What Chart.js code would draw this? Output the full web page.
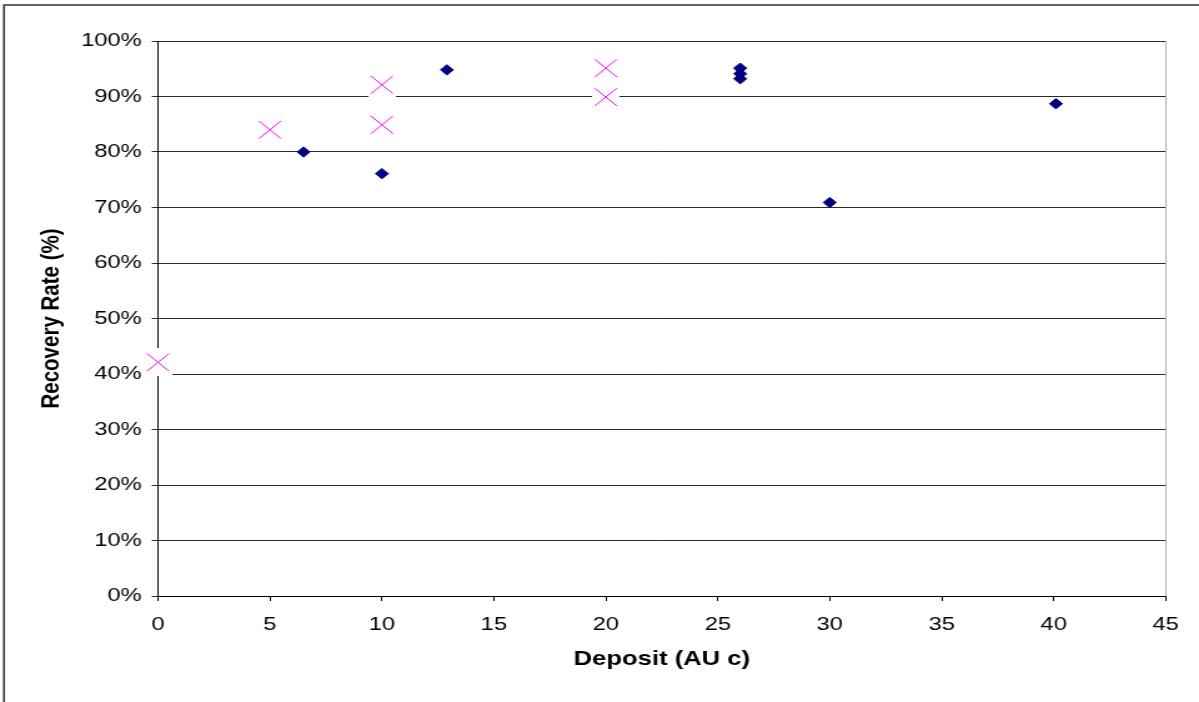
<!DOCTYPE html>
<html>
<head>
<meta charset="utf-8">
<script src="https://cdn.jsdelivr.net/npm/chart.js@4"></script>
<style>
    html, body { margin: 0; padding: 0; background: #fff; overflow: hidden; }
    /* the original chart is stretched sideways, so draw narrow and stretch */
    #wrap { width: 960px; height: 702px; transform: scaleX(1.24896); transform-origin: 0 0; }
</style>
</head>
<body>
<div id="wrap"><canvas id="scatterChart"></canvas></div>
<script>
// Deposit (AU c) vs recovery rate (%)
const seriesADeposit = [6.5, 10, 12.9, 26, 26, 26, 30, 40.1];
const seriesARate = [80, 76.1, 94.8, 95.1, 94.1, 93.2, 70.9, 88.7];
const seriesBDeposit = [0, 5, 10, 10, 20, 20];
const seriesBRate = [42.1, 84, 92.1, 84.9, 95.1, 89.9];
const xTicks = [0, 5, 10, 15, 20, 25, 30, 35, 40, 45];
const yTicks = [0, 10, 20, 30, 40, 50, 60, 70, 80, 90, 100];

const FONT = 'Liberation Sans, Arial, Helvetica, sans-serif';

function toPoints(xs, ys) {
    return xs.map(function (x, i) { return {x: x, y: ys[i]}; });
}

//white box behind the crosses, hides the grid lines like excel does
function makeMask() {
    let c = document.createElement('canvas');
    c.width = 22;
    c.height = 28;
    let g = c.getContext('2d');
    g.fillStyle = '#ffffff';
    g.fillRect(0, 0, 22, 28);
    return c;
}

const framePlugin = {
    id: 'frame',
    beforeDraw: function (chart) {
        let ctx = chart.ctx;
        ctx.save();
        ctx.strokeStyle = '#333';
        ctx.lineWidth = 1.5;
        ctx.beginPath();
        ctx.moveTo(3.2, 702);
        ctx.lineTo(3.2, 5);
        ctx.lineTo(960, 5);
        ctx.stroke();
        ctx.restore();
    },
    afterDatasetsDraw: function (chart) {
        //right edge of plot area
        let a = chart.chartArea;
        let ctx = chart.ctx;
        ctx.save();
        ctx.strokeStyle = '#b0b0b0';
        ctx.lineWidth = 1;
        ctx.beginPath();
        ctx.moveTo(Math.round(a.right) + 0.5, a.top);
        ctx.lineTo(Math.round(a.right) + 0.5, a.bottom);
        ctx.stroke();
        ctx.restore();
    }
};

const crossPoints = toPoints(seriesBDeposit, seriesBRate);

new Chart($('scatterChart'), {
    type: 'scatter',
    data: {
        datasets: [{
            label: 'B',
            data: crossPoints,
            pointStyle: 'crossRot',
            pointRadius: 12.5,
            pointHoverRadius: 12.5,
            borderColor: '#ff00ff',
            backgroundColor: '#ff00ff',
            borderWidth: 1,
            clip: false
        }, {
            label: 'A',
            data: toPoints(seriesADeposit, seriesARate),
            pointStyle: 'rectRot',
            pointRadius: 5.2,
            pointHoverRadius: 5.2,
            borderColor: '#000080',
            backgroundColor: '#000080',
            borderWidth: 1,
            clip: false
        }, {
            label: 'mask',
            data: crossPoints,
            pointStyle: makeMask(),
            pointRadius: 12,
            borderWidth: 0,
            clip: false
        }]
    },
    options: {
        responsive: true,
        maintainAspectRatio: false,
        animation: false,
        events: [],
        layout: {padding: {top: 41, right: 26.7, left: 0, bottom: 0}},
        plugins: {
            legend: {display: false},
            tooltip: {enabled: false}
        },
        scales: {
            x: {
                type: 'linear',
                min: 0,
                max: 45,
                afterFit: function (s) { s.height = 106; },
                afterBuildTicks: function (s) { s.ticks = xTicks.map(function (v) { return {value: v}; }); },
                grid: {drawOnChartArea: false, drawTicks: true, tickLength: 5, color: '#000'},
                border: {display: true, color: '#000', width: 1},
                ticks: {
                    padding: 12,
                    color: '#000',
                    font: {family: FONT, size: 19}
                },
                title: {
                    display: true,
                    text: 'Deposit (AU c)',
                    color: '#000',
                    font: {family: FONT, size: 20.5, weight: 'bold', lineHeight: 1.2},
                    padding: {top: 0, bottom: 30}
                }
            },
            y: {
                type: 'linear',
                min: 0,
                max: 100,
                afterFit: function (s) { s.width = 126.5; },
                afterBuildTicks: function (s) { s.ticks = yTicks.map(function (v) { return {value: v}; }); },
                grid: {drawOnChartArea: true, drawTicks: true, tickLength: 5, color: '#2a2a2a'},
                border: {display: true, color: '#000', width: 1},
                ticks: {
                    padding: 8,
                    color: '#000',
                    font: {family: FONT, size: 19},
                    callback: function (v) { return v + '%'; }
                },
                title: {
                    display: true,
                    text: 'Recovery Rate (%)',
                    color: '#000',
                    font: {family: FONT, size: 20.5, weight: 'bold', lineHeight: 1.2},
                    padding: {top: 29, bottom: 0}
                }
            }
        }
    },
    plugins: [framePlugin]
});

function $(id) {
    return document.getElementById(id);
}
</script>
</body>
</html>
